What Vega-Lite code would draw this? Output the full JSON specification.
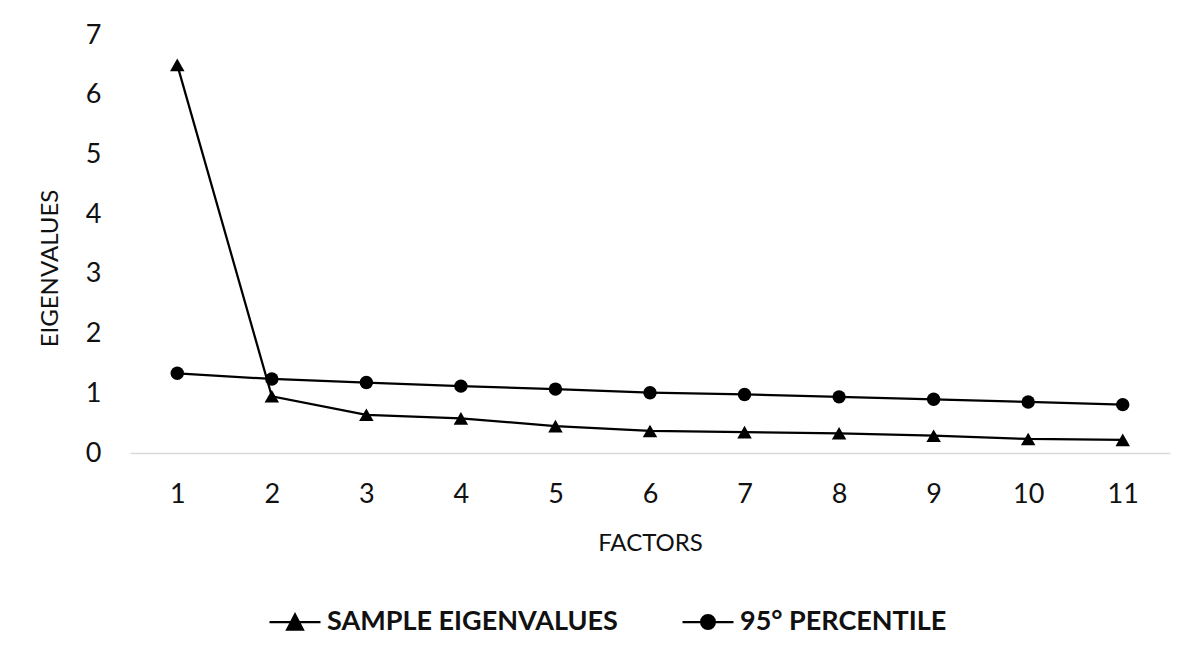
{
  "$schema": "https://vega.github.io/schema/vega-lite/v6.json",
  "width": 1040,
  "height": 418,
  "autosize": {"type": "none"},
  "padding": {"left": 130, "top": 35, "right": 28, "bottom": 210},
  "background": "white",
  "config": {
    "view": {"stroke": null},
    "font": "Lato",
    "axis": {"labelFont": "Lato", "titleFont": "Lato", "labelColor": "#111", "titleColor": "#111", "titleFontWeight": "normal"}
  },
  "data": {
    "values": [
      {"factor": "1", "series": "SAMPLE EIGENVALUES", "value": 6.5},
      {"factor": "2", "series": "SAMPLE EIGENVALUES", "value": 0.95},
      {"factor": "3", "series": "SAMPLE EIGENVALUES", "value": 0.64},
      {"factor": "4", "series": "SAMPLE EIGENVALUES", "value": 0.58},
      {"factor": "5", "series": "SAMPLE EIGENVALUES", "value": 0.45},
      {"factor": "6", "series": "SAMPLE EIGENVALUES", "value": 0.37},
      {"factor": "7", "series": "SAMPLE EIGENVALUES", "value": 0.35},
      {"factor": "8", "series": "SAMPLE EIGENVALUES", "value": 0.33},
      {"factor": "9", "series": "SAMPLE EIGENVALUES", "value": 0.29},
      {"factor": "10", "series": "SAMPLE EIGENVALUES", "value": 0.235},
      {"factor": "11", "series": "SAMPLE EIGENVALUES", "value": 0.22},
      {"factor": "1", "series": "95° PERCENTILE", "value": 1.335},
      {"factor": "2", "series": "95° PERCENTILE", "value": 1.24},
      {"factor": "3", "series": "95° PERCENTILE", "value": 1.18},
      {"factor": "4", "series": "95° PERCENTILE", "value": 1.12},
      {"factor": "5", "series": "95° PERCENTILE", "value": 1.07},
      {"factor": "6", "series": "95° PERCENTILE", "value": 1.01},
      {"factor": "7", "series": "95° PERCENTILE", "value": 0.98},
      {"factor": "8", "series": "95° PERCENTILE", "value": 0.94},
      {"factor": "9", "series": "95° PERCENTILE", "value": 0.9},
      {"factor": "10", "series": "95° PERCENTILE", "value": 0.855},
      {"factor": "11", "series": "95° PERCENTILE", "value": 0.81}
    ]
  },
  "encoding": {
    "x": {
      "field": "factor", "type": "ordinal", "sort": ["1","2","3","4","5","6","7","8","9","10","11"],
      "scale": {"type": "point", "padding": 0.5},
      "axis": {
        "title": "FACTORS", "titleFontSize": 24, "titleY": 90, "titleBaseline": "middle",
        "labelAngle": 0, "labelFontSize": 27, "labelPadding": 28, "ticks": false,
        "domainColor": "#d9d9d9", "domainWidth": 1.5, "grid": false
      }
    },
    "y": {
      "field": "value", "type": "quantitative",
      "scale": {"domain": [0, 7], "nice": false},
      "axis": {
        "title": "EIGENVALUES", "titleFontSize": 24, "titleX": -80, "titleY": 233, "titleAngle": -90,
        "titleBaseline": "middle", "titleAlign": "center",
        "values": [0,1,2,3,4,5,6,7], "labelFontSize": 27, "labelPadding": 29, "ticks": false,
        "domain": false, "grid": false
      }
    }
  },
  "layer": [
    {
      "mark": {"type": "line", "strokeWidth": 2.25},
      "encoding": {
        "color": {
          "field": "series", "type": "nominal",
          "scale": {"domain": ["SAMPLE EIGENVALUES", "95° PERCENTILE"], "range": ["black", "black"]},
          "legend": {
            "title": null, "orient": "none", "direction": "horizontal",
            "legendX": 138, "legendY": 560,
            "labelFontSize": 27, "labelFontWeight": "bold", "labelFont": "Lato", "labelColor": "#111", "labelLimit": 0,
            "symbolSize": 2601, "symbolStrokeWidth": 2.25, "symbolStrokeColor": "black", "symbolFillColor": "black",
            "labelOffset": 5, "columnPadding": 60,
            "encode": {
              "symbols": {
                "update": {
                  "shape": {"signal": "datum.value === 'SAMPLE EIGENVALUES' ? 'M-1,0H1M-0.31,0.3L0,-0.3L0.31,0.3Z' : 'M-1,0H1M0.27,0A0.27,0.27,0,1,1,-0.27,0A0.27,0.27,0,1,1,0.27,0Z'"},
                  "fill": {"value": "black"},
                  "stroke": {"value": "black"}
                }
              }
            }
          }
        }
      }
    },
    {
      "mark": {"type": "point", "filled": true, "opacity": 1, "color": "black", "size": 190},
      "encoding": {
        "shape": {
          "condition": {"test": "datum.series === 'SAMPLE EIGENVALUES'", "value": "triangle-up"},
          "value": "circle"
        },
        "size": {
          "condition": {"test": "datum.series === 'SAMPLE EIGENVALUES'", "value": 210},
          "value": 180
        },
        "detail": {"field": "series"}
      }
    }
  ]
}
